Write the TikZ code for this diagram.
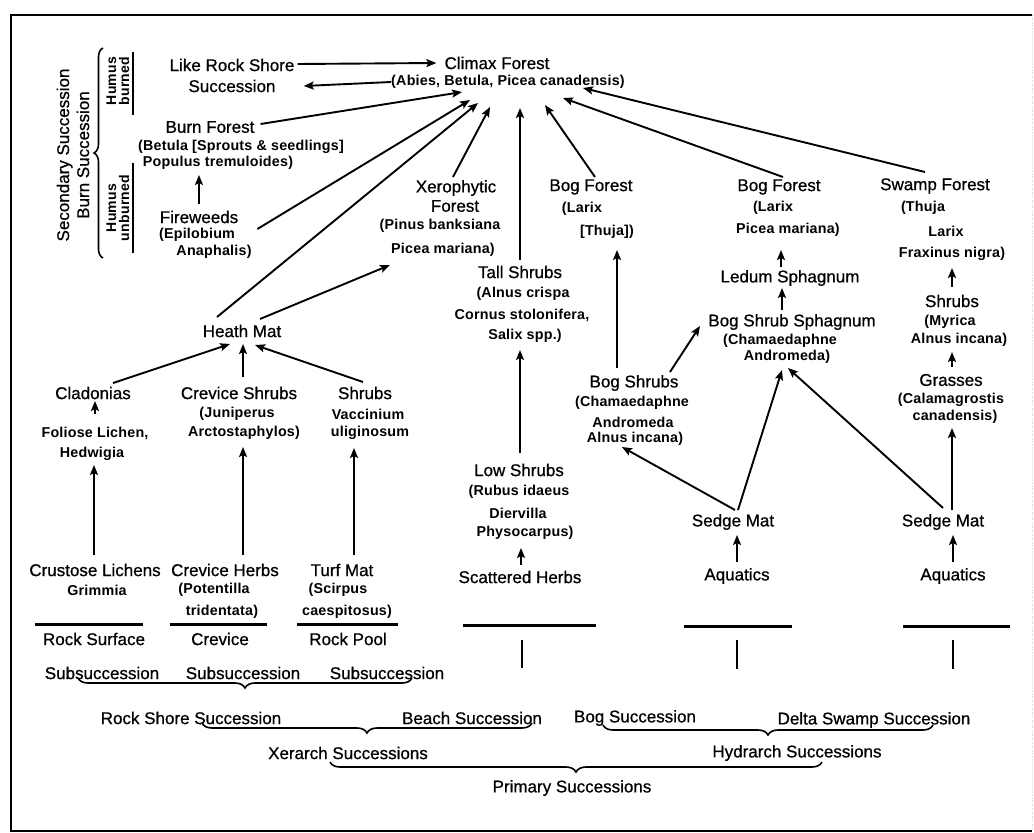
\documentclass[tikz,border=0pt]{standalone}
\usepackage{fontspec}
\setmainfont{Liberation Sans}
\newfontfamily\mainfam[FakeBold=0.7]{Liberation Sans}
\newfontfamily\subfam[LetterSpace=1.5]{Liberation Sans}
\usetikzlibrary{arrows.meta,calc,decorations.pathreplacing}
\begin{document}
\begin{tikzpicture}[x=1pt,y=-1pt,
  mn/.style={inner sep=0pt,font=\mainfam\fontsize{17}{20}\selectfont},
  sb/.style={inner sep=0pt,font=\subfam\bfseries\fontsize{14.3}{15}\selectfont},
  arr/.style={line width=1.9pt,-{Stealth[length=10pt,width=8pt,inset=2pt]}},
  gline/.style={line width=3pt},
  tickline/.style={line width=2pt},
  brc/.style={line width=1.6pt,decorate,decoration={brace,amplitude=10pt}},
  frame/.style={line width=2pt}]
\useasboundingbox (0,0) rectangle (1034,833);
% frame
\draw[frame] (1032,15) -- (11,15) -- (11,831) -- (1032,831);
\draw[gray!40,dotted,line width=0.6pt] (1032,15) -- (1032,831);

% left annotations
\node[mn,rotate=90,align=center] (secsuc) at (73,155) {Secondary Succession\\Burn Succession};
\draw[brc,decoration={amplitude=9pt}] (103,258) -- (103,48);
\node[sb,rotate=90,align=center,font=\subfam\bfseries\fontsize{14}{13}\selectfont] (hburn) at (118,81) {Humus\\burned};
\node[sb,rotate=90,align=center,font=\subfam\bfseries\fontsize{14}{13}\selectfont] (hunburn) at (118,208) {Humus\\unburned};
\draw[tickline] (133,52) -- (133,115);
\draw[tickline] (133,163) -- (133,253);

% top
\node[mn] (lrsA) at (232,65) {Like Rock Shore};
\node[mn] (lrsB) at (232,86) {Succession};
\node[mn] (climax) at (497,63) {Climax Forest};
\node[sb] (climaxsub) at (508,82) {(Abies, Betula, Picea canadensis)};
\node[mn] (burn) at (210,127) {Burn Forest};
\node[sb] (burnA) at (241,147) {(Betula [Sprouts \& seedlings]};
\node[sb] (burnB) at (218,163) {Populus tremuloides)};
\node[mn] (fire) at (199,217) {Fireweeds};
\node[sb] (fireA) at (197,235) {(Epilobium};
\node[sb] (fireB) at (214,252) {Anaphalis)};
\node[mn] (xero) at (456,188) {Xerophytic};
\node[mn] (xeroF) at (455,206) {Forest};
\node[sb] (xeroA) at (440,226) {(Pinus banksiana};
\node[sb] (xeroB) at (443,250) {Picea mariana)};
\node[mn] (bogA) at (591,187) {Bog Forest};
\node[sb] (bogAa) at (582,209) {(Larix};
\node[sb] (bogAb) at (607,232) {[Thuja])};
\node[mn] (bogB) at (779,187) {Bog Forest};
\node[sb] (bogBa) at (773,208) {(Larix};
\node[sb] (bogBb) at (788,230) {Picea mariana)};
\node[mn] (swamp) at (935,186) {Swamp Forest};
\node[sb] (swA) at (923,208) {(Thuja};
\node[sb] (swB) at (946,231) {Larix};
\node[sb] (swC) at (952,254) {Fraxinus nigra)};
\node[mn] (tall) at (520,272) {Tall Shrubs};
\node[sb] (tallA) at (523,294) {(Alnus crispa};
\node[sb] (tallB) at (522,315) {Cornus stolonifera,};
\node[sb] (tallC) at (525,336) {Salix spp.)};
\node[mn] (ledum) at (790,278) {Ledum Sphagnum};
\node[mn] (bss) at (792,322) {Bog Shrub Sphagnum};
\node[sb] (bssA) at (780,341) {(Chamaedaphne};
\node[sb] (bssB) at (787,357) {Andromeda)};
\node[mn] (shr) at (952,301) {Shrubs};
\node[sb] (shrA) at (950,322) {(Myrica};
\node[sb] (shrB) at (959,340) {Alnus incana)};
\node[mn] (grass) at (951,380) {Grasses};
\node[sb] (grA) at (951,400) {(Calamagrostis};
\node[sb] (grB) at (955,417) {canadensis)};
\node[mn] (heath) at (242,331) {Heath Mat};
\node[mn] (clad) at (93,393) {Cladonias};
\node[sb] (folA) at (95,433) {Foliose Lichen,};
\node[sb] (folB) at (92,454) {Hedwigia};
\node[mn] (cshr) at (239,393) {Crevice Shrubs};
\node[sb] (csA) at (237,414) {(Juniperus};
\node[sb] (csB) at (244,433) {Arctostaphylos)};
\node[mn] (vshr) at (365,393) {Shrubs};
\node[sb] (vsA) at (368,414) {Vaccinium};
\node[sb] (vsB) at (370,433) {uliginosum};
\node[mn] (bogshr) at (634,383) {Bog Shrubs};
\node[sb] (bsA) at (632,403) {(Chamaedaphne};
\node[sb] (bsB) at (633,422) {Andromeda};
\node[sb] (bsC) at (635,439) {Alnus incana)};
\node[mn] (low) at (519,470) {Low Shrubs};
\node[sb] (lowA) at (519,492) {(Rubus idaeus};
\node[sb] (lowB) at (518,513) {Diervilla};
\node[sb] (lowC) at (525,533) {Physocarpus)};
\node[mn] (sedgeA) at (733,522) {Sedge Mat};
\node[mn] (sedgeB) at (943,522) {Sedge Mat};
\node[mn] (crust) at (95,570) {Crustose Lichens};
\node[sb] (crA) at (97,590) {Grimmia};
\node[mn] (cherb) at (225,570) {Crevice Herbs};
\node[sb] (chA) at (214,590) {(Potentilla};
\node[sb] (chB) at (222,612) {tridentata)};
\node[mn] (turf) at (342,570) {Turf Mat};
\node[sb] (tfA) at (338,590) {(Scirpus};
\node[sb] (tfB) at (347,612) {caespitosus)};
\node[mn] (scat) at (520,577) {Scattered Herbs};
\node[mn] (aqA) at (737,576) {Aquatics};
\node[mn] (aqB) at (953,576) {Aquatics};

% ground lines and ticks
\draw[gline] (35,624) -- (143,624);
\draw[gline] (170,624) -- (267,624);
\draw[gline] (297,624) -- (398,624);
\draw[gline] (463,625) -- (596,625);
\draw[gline] (684,626) -- (792,626);
\draw[gline] (903,626) -- (1010,626);
\draw[tickline] (522,640) -- (522,668);
\draw[tickline] (737,640) -- (737,669);
\draw[tickline] (953,640) -- (953,669);

\node[mn] (rsurf) at (94,639) {Rock Surface};
\node[mn] (crev) at (220,639) {Crevice};
\node[mn] (rpool) at (348,639) {Rock Pool};
\node[mn] (subA) at (102,673) {Subsuccession};
\node[mn] (subB) at (243,673) {Subsuccession};
\node[mn] (subC) at (387,673) {Subsuccession};
\node[mn] (rss) at (191,718) {Rock Shore Succession};
\node[mn] (beach) at (472,718) {Beach Succession};
\node[mn] (bogsuc) at (635,718) {Bog Succession};
\node[mn] (delta) at (874,720) {Delta Swamp Succession};
\node[mn] (xer) at (348,753) {Xerarch Successions};
\node[mn] (hyd) at (797,753) {Hydrarch Successions};
\node[mn] (prim) at (572,788) {Primary Successions};

% braces
\draw[brc] (412,678) -- (78,678);
\draw[brc] (532,723) -- (202,723);
\draw[brc] (933,725) -- (603,725);
\draw[brc] (822,762) -- (330,762);

% arrows into climax
\draw[arr] (lrsA.east) ++(3,-1) -- ($(climax.west)+(-8,0)$);
\draw[arr] ($(climaxsub.west)+(0,0)$) -- ($(lrsB.east)+(28,0)$);
\draw[arr] ($(burn.east)+(6,-3)$) -- ($(climaxsub)+(-46,10)$);
\draw[arr] ($(fire.east)+(19,12)$) -- ($(climaxsub)+(-38,18)$);
\draw[arr] ($(heath)+(-25,-14)$) -- ($(climaxsub)+(-30,21)$);
\draw[arr] ($(xero)+(-3,-11)$) -- ($(climaxsub)+(-18,25)$);
\draw[arr] ($(tall)+(0,-12)$) -- ($(climaxsub)+(12,26)$);
\draw[arr] ($(bogA)+(4,-10)$) -- ($(climaxsub)+(37,23)$);
\draw[arr] ($(bogB)+(4,-10)$) -- ($(climaxsub)+(55,16)$);
\draw[arr] ($(swamp)+(-10,-14)$) -- ($(climaxsub)+(75,6)$);

% other arrows
\draw[arr] ($(fire)+(0,-13)$) -- ($(burnB)+(-19,12)$);
\draw[arr] ($(heath)+(18,-12)$) -- ($(xeroB)+(-53,15)$);
\draw[arr] ($(clad)+(20,-10)$) -- ($(heath)+(-12,13)$);
\draw[arr] ($(cshr)+(4,-16)$) -- ($(heath)+(1,13)$);
\draw[arr] ($(vshr)+(-2,-11)$) -- ($(heath)+(13,14)$);
\draw[arr] ($(folA)+(0,-19)$) -- ($(clad)+(2,8)$);
\draw[arr] ($(crust)+(-1,-15)$) -- ($(folB)+(2,11)$);
\draw[arr] ($(cherb)+(18,-15)$) -- ($(csB)+(-1,14)$);
\draw[arr] ($(turf)+(12,-15)$) -- ($(vsB)+(-16,15)$);
\draw[arr] ($(scat)+(1,-12)$) -- ($(lowC)+(-4,15)$);
\draw[arr] ($(low)+(1,-17)$) -- ($(tallC)+(-5,14)$);
\draw[arr] ($(bogshr)+(-17,-15)$) -- ($(bogAb)+(10,18)$);
\draw[arr] ($(bogshr)+(36,-11)$) -- ($(bss)+(-92,4)$);
\draw[arr] ($(sedgeA)+(2,-12)$) -- ($(bsC)+(-13,8)$);
\draw[arr] ($(sedgeA)+(5,-12)$) -- ($(bssB)+(-5,13)$);
\draw[arr] ($(sedgeB)+(0,-14)$) -- ($(bssB)+(1,11)$);
\draw[arr] ($(bss)+(-10,-12)$) -- ($(ledum)+(-8,10)$);
\draw[arr] ($(ledum)+(-9,-11)$) -- ($(bogBb)+(-7,20)$);
\draw[arr] ($(aqA)+(0,-14)$) -- ($(sedgeA)+(4,13)$);
\draw[arr] ($(aqB)+(0,-14)$) -- ($(sedgeB)+(10,13)$);
\draw[arr] ($(sedgeB)+(9,-12)$) -- ($(grB)+(-3,11)$);
\draw[arr] ($(grass)+(1,-13)$) -- ($(shrB)+(-7,12)$);
\draw[arr] ($(shr)+(0,-14)$) -- ($(swC)+(0,14)$);
\end{tikzpicture}
\end{document}
